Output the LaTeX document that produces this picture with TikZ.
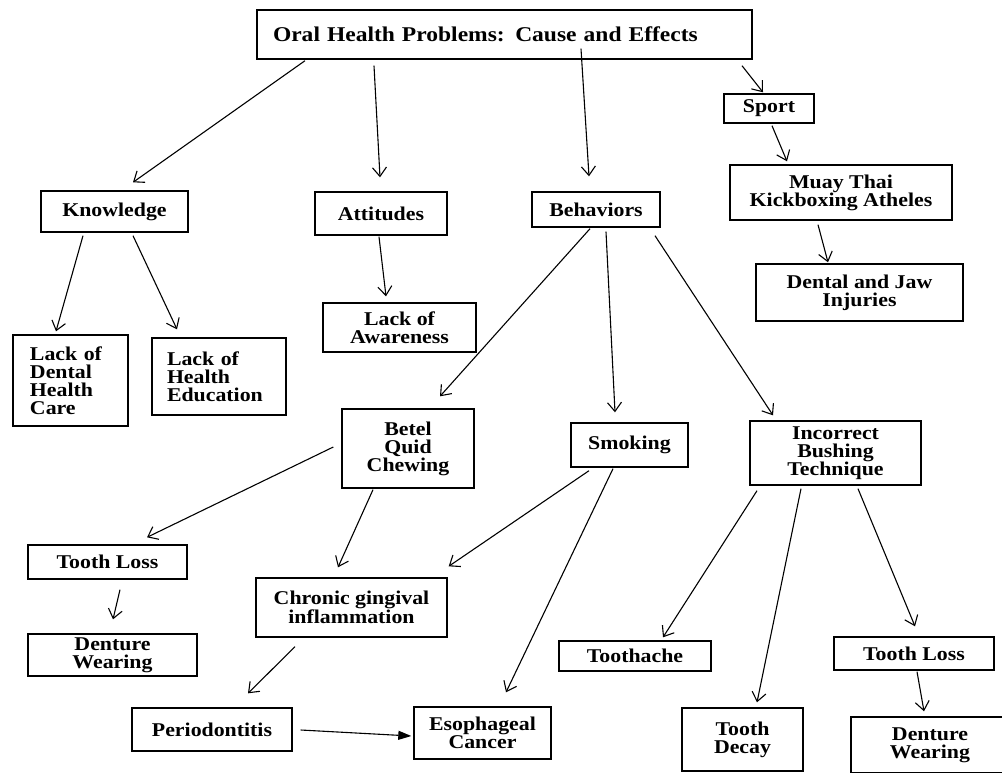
\documentclass[tikz,border=0pt]{standalone}
\usepackage{fontspec}
\setmainfont{Liberation Serif}[FakeStretch=1.12]
\usetikzlibrary{arrows.meta}

\tikzset{
  cbox/.style={draw, line width=1.4pt, inner sep=0pt, align=center,
    font=\bfseries\fontsize{19.5}{18}\selectfont},
  arr/.style={-{Straight Barb[length=9pt,width=14pt]}, line width=1.1pt},
  farr/.style={-{Triangle[length=13pt,width=9pt]}, line width=1.1pt},
}

\begin{document}
\begin{tikzpicture}[x=1pt, y=-1pt]
        \useasboundingbox (0,0) rectangle (1002,772);
        % top
        \node[cbox, minimum width=495pt, minimum height=49pt, inner xsep=16pt, text width=463pt, align=left,
          font=\bfseries\fontsize{21}{20}\selectfont] (title) at (504.5,34.5) {Oral Health Problems: Cause and Effects};
        % first level
        \node[cbox, minimum width=147pt, minimum height=41pt] (know) at (114.5,211.5) {Knowledge};
        \node[cbox, minimum width=132pt, minimum height=43pt] (att) at (381,213.5) {Attitudes};
        \node[cbox, minimum width=128pt, minimum height=35pt] (behav) at (596,209.5) {Behaviors};
        \node[cbox, minimum width=90pt, minimum height=29pt] (sport) at (769,108.5) {Sport};
        \node[cbox, minimum width=222pt, minimum height=55pt] (muay) at (841,192.5) {Muay Thai\\Kickboxing Atheles};
        \node[cbox, minimum width=207pt, minimum height=57pt] (injury) at (859.5,292.5) {Dental and Jaw\\Injuries};
        % second level
        \node[cbox, minimum width=115pt, minimum height=91pt, inner xsep=17pt, text width=81pt, align=left] (dcare) at (70.5,380.5) {Lack of\\Dental\\Health\\Care};
        \node[cbox, minimum width=134pt, minimum height=77pt, inner xsep=15pt, text width=104pt, align=left] (hedu) at (219,376.5) {Lack of\\Health\\Education};
        \node[cbox, minimum width=153pt, minimum height=49pt] (aware) at (399.5,327.5) {Lack of\\Awareness};
        \node[cbox, minimum width=132pt, minimum height=79pt] (betel) at (408,448.5) {Betel\\Quid\\Chewing};
        \node[cbox, minimum width=117pt, minimum height=44pt] (smoke) at (629.5,445) {Smoking};
        \node[cbox, minimum width=171pt, minimum height=64pt] (brush) at (835.5,453) {Incorrect\\Bushing\\Technique};
        % effects
        \node[cbox, minimum width=159pt, minimum height=34pt] (lossA) at (107.5,562) {Tooth Loss};
        \node[cbox, minimum width=169pt, minimum height=42pt] (dentA) at (112.5,655) {Denture\\Wearing};
        \node[cbox, minimum width=191pt, minimum height=59pt] (gingiv) at (351.5,607.5) {Chronic gingival\\inflammation};
        \node[cbox, minimum width=160pt, minimum height=43pt] (perio) at (212,729.5) {Periodontitis};
        \node[cbox, minimum width=137pt, minimum height=52pt] (esoph) at (482.5,733) {Esophageal\\Cancer};
        \node[cbox, minimum width=152pt, minimum height=30pt] (ache) at (635,656) {Toothache};
        \node[cbox, minimum width=121pt, minimum height=63pt] (decay) at (742.5,739.5) {Tooth\\Decay};
        \node[cbox, minimum width=160pt, minimum height=33pt] (lossB) at (914,653.5) {Tooth Loss};
        \node[cbox, minimum width=158pt, minimum height=56pt] (dentB) at (930,745) {Denture\\Wearing};

        % connectors
        \draw[arr] ([shift={(-199.5,1)}]title.south) -- ([shift={(18.5,-8)}]know.north);
        \draw[arr] ([shift={(-130.5,6)}]title.south) -- ([shift={(-1,-14)}]att.north);
        \draw[arr] ([shift={(76.5,-11)}]title.south) -- ([shift={(-7,-15)}]behav.north);
        \draw[arr] ([shift={(237.5,6)}]title.south) -- ([shift={(-6,-1)}]sport.north);
        \draw[arr] ([shift={(3,2)}]sport.south) -- ([shift={(-54,-3)}]muay.north);
        \draw[arr] ([shift={(-23,4)}]muay.south) -- ([shift={(-31.5,-1)}]injury.north);
        \draw[arr] ([shift={(-31.5,3)}]know.south) -- ([shift={(-14.5,-3)}]dcare.north);
        \draw[arr] ([shift={(18.5,3)}]know.south) -- ([shift={(-42,-8)}]hedu.north);
        \draw[arr] ([shift={(-2,1)}]att.south) -- ([shift={(-13.5,-6)}]aware.north);
        \draw[arr] ([shift={(-6,1)}]behav.south) -- ([shift={(32,-12)}]betel.north);
        \draw[arr] ([shift={(10,4)}]behav.south) -- ([shift={(-14.5,-10)}]smoke.north);
        \draw[arr] ([shift={(59,8)}]behav.south) -- ([shift={(-62.5,-5)}]brush.north);
        \draw[arr] ([shift={(-8,-1.5)}]betel.west) -- ([shift={(39.5,-7)}]lossA.north);
        \draw[arr] ([shift={(-35,1)}]betel.south) -- ([shift={(-13.5,-10)}]gingiv.north);
        \draw[arr] ([shift={(-40.5,3)}]smoke.south) -- ([shift={(1,-11)}]gingiv.north east);
        \draw[arr] ([shift={(-16.5,1)}]smoke.south) -- ([shift={(23.5,-14)}]esoph.north);
        \draw[arr] ([shift={(12.5,10)}]lossA.south) -- ([shift={(0.5,-14)}]dentA.north);
        \draw[arr] ([shift={(-56.5,9)}]gingiv.south) -- ([shift={(36,-14)}]perio.north);
        \draw[farr] ([shift={(8,0.5)}]perio.east) -- ([shift={(-2,3)}]esoph.west);
        \draw[arr] ([shift={(-78.5,5)}]brush.south) -- ([shift={(28,-3)}]ache.north);
        \draw[arr] ([shift={(-34.5,3)}]brush.south) -- ([shift={(14.5,-5)}]decay.north);
        \draw[arr] ([shift={(22.5,3)}]brush.south) -- ([shift={(1,-10)}]lossB.north);
        \draw[arr] ([shift={(3,1)}]lossB.south) -- ([shift={(-6,-5)}]dentB.north);
\end{tikzpicture}
\end{document}
